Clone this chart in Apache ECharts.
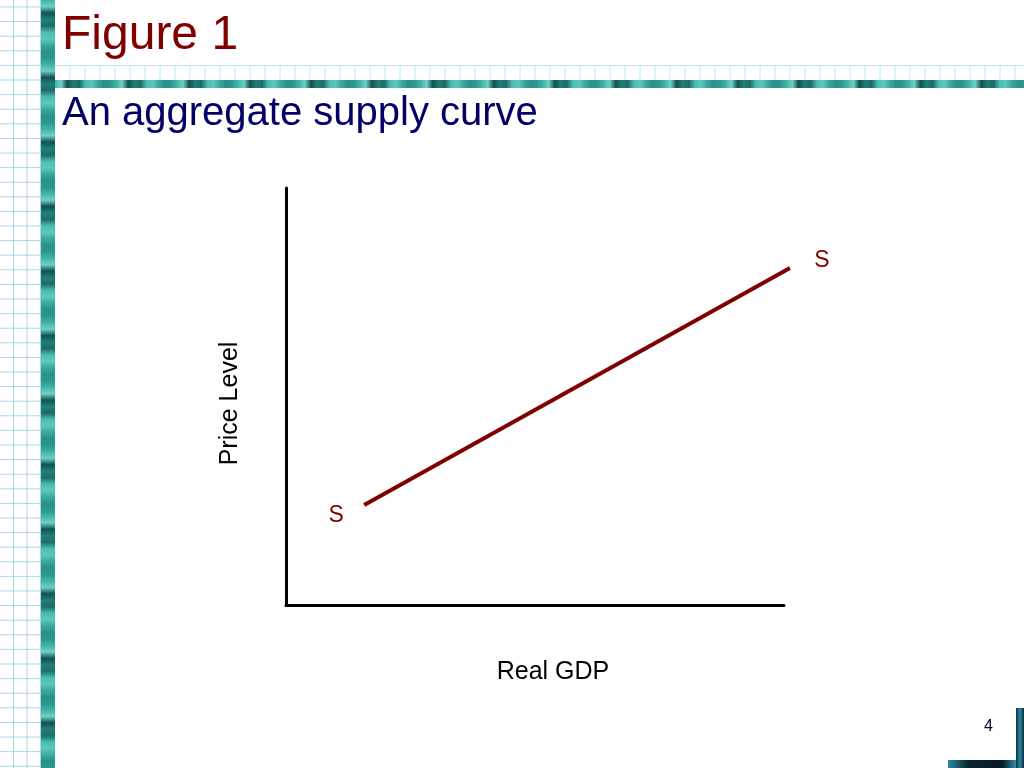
<!DOCTYPE html>
<html>
<head>
<meta charset="utf-8">
<script src="https://cdn.jsdelivr.net/npm/echarts@6/dist/echarts.min.js"></script>
<style>
html,body{margin:0;padding:0;background:#fff;}
#chart{width:1024px;height:768px;}
</style>
</head>
<body>
<div id="chart"></div>
<script>
// Data
const realGDP = [15.7, 101.2];
const priceLevel = [24.0, 80.8];
const curveLabels = ['S', 'S'];
const titleText = 'Figure 1';
const subtitleText = 'An aggregate supply curve';
const xAxisName = 'Real GDP';
const yAxisName = 'Price Level';
const pageNumber = '4';

const chart = echarts.init(document.getElementById('chart'), null, {renderer: 'canvas'});

// decorative background elements
const deco = [];
deco.push({type: 'rect', shape: {x: 0, y: 0, width: 41, height: 768}, style: {fill: '#ffffff'}, z: -10});
for (let x = 13.5; x < 41; x += 13.5) {
  deco.push({type: 'line', shape: {x1: x, y1: 0, x2: x, y2: 768}, style: {stroke: '#a9d6ea', lineWidth: 1}, z: -9});
}
for (let y = 7; y < 768; y += 14.6) {
  deco.push({type: 'line', shape: {x1: 0, y1: y, x2: 41, y2: y}, style: {stroke: '#a9d6ea', lineWidth: 1}, z: -9});
}
deco.push({type: 'line', shape: {x1: 55, y1: 65.5, x2: 1024, y2: 65.5}, style: {stroke: '#c4e4f0', lineWidth: 1}, z: -9});
for (let x = 70; x < 1024; x += 15) {
  deco.push({type: 'line', shape: {x1: x, y1: 66, x2: x, y2: 80}, style: {stroke: '#c4e4f0', lineWidth: 1}, z: -9});
}
function tealStops(n) {
  const cols = ['#3fb3a8', '#1f7f7a', '#5cc8bc', '#2a9890', '#14524f', '#48bdb1', '#2d8f88', '#6fd0c4', '#1d6b66', '#3aa89f'];
  const stops = [];
  for (let i = 0; i < n; i++) {
    stops.push({offset: i / (n - 1), color: cols[(i * 7) % cols.length]});
  }
  return stops;
}
deco.push({type: 'rect', shape: {x: 41, y: 0, width: 14, height: 768},
  style: {fill: new echarts.graphic.LinearGradient(0, 0, 0, 1, tealStops(120))}, z: -8});
deco.push({type: 'rect', shape: {x: 55, y: 80, width: 969, height: 8},
  style: {fill: new echarts.graphic.LinearGradient(0, 0, 1, 0, tealStops(160))}, z: -8});
deco.push({type: 'rect', shape: {x: 1016, y: 708, width: 8, height: 60},
  style: {fill: new echarts.graphic.LinearGradient(1, 0, 0, 0, [{offset: 0, color: '#0a2a33'}, {offset: 0.5, color: '#2b8aa3'}, {offset: 1, color: '#0b3440'}])}, z: -8});
deco.push({type: 'rect', shape: {x: 948, y: 760, width: 68, height: 8},
  style: {fill: new echarts.graphic.LinearGradient(0, 0, 1, 0, [{offset: 0, color: '#2b8aa3'}, {offset: 0.3, color: '#0a2530'}, {offset: 0.8, color: '#061a22'}, {offset: 1, color: '#2f8fa8'}])}, z: -8});
deco.push({type: 'text', left: 62, top: 12, style: {text: titleText, fill: '#800000', font: '48px "Liberation Sans", Arial, sans-serif'}, z: 10});
deco.push({type: 'text', left: 62, top: 94, style: {text: subtitleText, fill: '#000066', font: '40px "Liberation Sans", Arial, sans-serif'}, z: 10});
deco.push({type: 'text', left: 984, top: 719, style: {text: pageNumber, fill: '#000033', font: '16px "Liberation Sans", Arial, sans-serif'}, z: 10});

const FONT = '"Liberation Sans", Arial, sans-serif';
const hiddenAxis = {show: false};

const option = {
  backgroundColor: '#ffffff',
  animation: false,
  graphic: deco,
  grid: [
    {left: 286, right: 240, top: 188, bottom: 163},
    // same scale (4.98 px per unit) extended to 110 so the curve can run past the axis end
    {left: 286, right: 1024 - 286 - 498 * 1.1, top: 188, bottom: 163}
  ],
  xAxis: [{
    gridIndex: 0, type: 'value', min: 0, max: 100,
    name: xAxisName, nameLocation: 'middle', nameGap: 55,
    nameTextStyle: {color: '#000', fontSize: 25, fontFamily: FONT, padding: [0, 0, 0, 36]},
    axisLine: {show: true, onZero: false, lineStyle: {color: '#000', width: 3}},
    axisTick: {show: false}, axisLabel: {show: false}, splitLine: {show: false}
  }, Object.assign({gridIndex: 1, type: 'value', min: 0, max: 110}, hiddenAxis)],
  yAxis: [{
    gridIndex: 0, type: 'value', min: 0, max: 100,
    name: yAxisName, nameLocation: 'middle', nameGap: 43, nameRotate: 90,
    nameTextStyle: {color: '#000', fontSize: 25, fontFamily: FONT, padding: [0, 14, 0, 0]},
    axisLine: {show: true, onZero: false, lineStyle: {color: '#000', width: 3}},
    axisTick: {show: false}, axisLabel: {show: false}, splitLine: {show: false}
  }, Object.assign({gridIndex: 1, type: 'value', min: 0, max: 100}, hiddenAxis)],
  series: [{
    type: 'line',
    xAxisIndex: 1, yAxisIndex: 1,
    clip: false,
    symbol: 'circle', symbolSize: 1,
    itemStyle: {color: 'rgba(0,0,0,0)'},
    lineStyle: {color: '#7f0000', width: 4},
    data: realGDP.map((x, i) => ({
      value: [x, priceLevel[i]],
      label: {
        show: true,
        formatter: curveLabels[i],
        position: 'inside',
        offset: i === 0 ? [-28, 11] : [32, -7],
        color: '#800000',
        fontSize: 23,
        fontFamily: FONT
      }
    }))
  }]
};
chart.setOption(option);
</script>
</body>
</html>
